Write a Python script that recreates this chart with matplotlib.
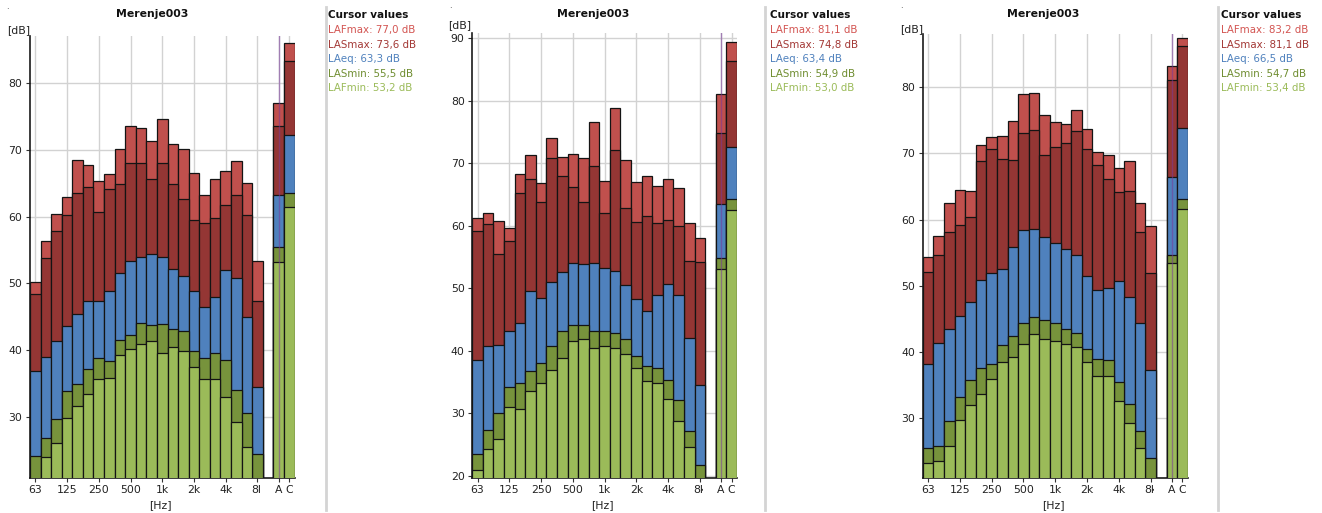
import matplotlib
matplotlib.use("Agg")
import matplotlib.pyplot as plt
from matplotlib.transforms import Bbox, offset_copy
from matplotlib.lines import Line2D

# ---------------- data ----------------
bands = ["63", "80", "100", "125", "160", "200", "250", "315", "400", "500", "630", "800",
         "1k", "1.25k", "1.6k", "2k", "2.5k", "3.15k", "4k", "5k", "6.3k", "8k"]
extra = ["A", "C"]
tick_bands = ["63", "125", "250", "500", "1k", "2k", "4k", "8k"]
series_names = ["LAFmax", "LASmax", "LAeq", "LASmin", "LAFmin"]
titles = ["Merenje003", "Merenje003", "Merenje003"]

# panel 1 (22 bands, then A, C)
LAFmax1 = [50.2, 56.4, 60.4, 63.0, 68.5, 67.7, 65.4, 66.4, 70.2, 73.6, 73.3, 71.3, 74.7, 70.9, 70.1, 66.6, 63.3, 65.7, 66.9, 68.4, 65.1, 53.3, 77.0, 86.1]
LASmax1 = [48.4, 53.8, 57.9, 60.3, 63.6, 64.4, 60.7, 64.2, 64.9, 68.1, 68.0, 65.6, 68.1, 64.9, 62.6, 59.5, 59.1, 59.8, 61.8, 63.2, 60.2, 47.3, 73.6, 83.4]
LAeq1 = [36.9, 39.0, 41.3, 43.6, 45.4, 47.3, 47.4, 48.8, 51.6, 53.3, 53.9, 54.4, 53.9, 52.1, 51.1, 48.9, 46.5, 47.9, 52.0, 50.8, 44.9, 34.5, 63.3, 72.3]
LASmin1 = [24.1, 26.8, 29.6, 33.8, 34.9, 37.1, 38.8, 38.4, 41.5, 42.3, 44.0, 43.8, 43.9, 43.2, 42.9, 39.9, 38.8, 39.5, 38.5, 34.0, 30.6, 24.4, 55.5, 63.5]
LAFmin1 = [20.5, 24.0, 26.0, 29.8, 31.6, 33.4, 35.6, 35.8, 39.2, 40.2, 40.9, 41.4, 39.6, 40.5, 39.8, 37.5, 35.7, 35.6, 32.9, 29.2, 25.4, 20.5, 53.2, 61.5]

# panel 2
LAFmax2 = [61.2, 62.0, 60.8, 59.6, 68.2, 71.4, 66.9, 74.0, 71.0, 71.5, 70.8, 76.6, 67.1, 78.8, 70.5, 67.0, 68.0, 66.3, 67.4, 66.0, 60.4, 58.0, 81.1, 89.4]
LASmax2 = [59.1, 60.3, 55.5, 57.6, 65.3, 67.4, 63.8, 70.9, 68.0, 66.2, 63.8, 69.5, 62.1, 72.1, 62.8, 60.6, 61.5, 60.4, 60.9, 59.9, 54.4, 54.2, 74.8, 86.3]
LAeq2 = [38.5, 40.8, 40.9, 43.2, 44.5, 49.6, 48.5, 51.0, 52.6, 54.1, 53.8, 54.1, 53.3, 52.8, 50.5, 48.2, 46.4, 48.9, 50.7, 48.9, 42.1, 34.5, 63.4, 72.6]
LASmin2 = [23.4, 27.3, 30.0, 34.2, 34.8, 36.7, 38.0, 40.8, 43.1, 44.1, 44.1, 43.2, 43.2, 42.9, 41.9, 39.1, 37.5, 37.2, 35.3, 32.1, 27.2, 21.7, 54.9, 64.2]
LAFmin2 = [20.9, 24.3, 25.8, 31.0, 30.6, 33.5, 34.8, 36.9, 38.8, 41.6, 41.8, 40.5, 40.7, 40.5, 39.5, 37.3, 35.1, 34.8, 32.3, 28.7, 24.6, 19.0, 53.0, 62.5]

# panel 3
LAFmax3 = [54.4, 57.5, 62.5, 64.4, 64.3, 71.3, 72.5, 72.7, 74.9, 78.9, 79.1, 75.8, 74.7, 74.5, 76.6, 73.7, 70.2, 69.8, 67.8, 68.8, 62.5, 59.0, 83.2, 87.5]
LASmax3 = [52.0, 54.7, 58.1, 59.2, 60.4, 68.9, 70.7, 69.1, 69.0, 73.1, 73.6, 69.8, 71.0, 71.6, 73.4, 70.7, 68.3, 66.1, 64.2, 64.3, 58.1, 51.9, 81.1, 86.3]
LAeq3 = [38.1, 41.4, 43.4, 45.4, 47.5, 50.8, 51.9, 52.5, 55.9, 58.4, 58.5, 57.4, 56.5, 55.5, 54.7, 51.5, 49.4, 49.7, 50.7, 48.3, 44.4, 37.2, 66.5, 73.8]
LASmin3 = [25.4, 25.8, 29.6, 33.2, 35.7, 37.5, 38.1, 41.1, 42.4, 44.4, 45.2, 44.8, 44.4, 43.5, 42.9, 40.4, 38.9, 38.7, 35.5, 32.1, 28.1, 24.0, 54.7, 63.1]
LAFmin3 = [23.2, 23.5, 25.8, 29.7, 32.0, 33.6, 35.9, 38.4, 39.2, 41.2, 42.7, 41.9, 41.7, 41.2, 40.7, 38.5, 36.4, 36.4, 32.5, 29.2, 25.5, 20.0, 53.4, 61.6]

panels_data = [
    [LAFmax1, LASmax1, LAeq1, LASmin1, LAFmin1],
    [LAFmax2, LASmax2, LAeq2, LASmin2, LAFmin2],
    [LAFmax3, LASmax3, LAeq3, LASmin3, LAFmin3],
]
ylims = [(20.9, 87.1), (19.7, 90.8), (21.0, 88.0)]
yticks = [[30, 40, 50, 60, 70, 80], [20, 30, 40, 50, 60, 70, 80, 90], [30, 40, 50, 60, 70, 80]]

# ---------------- style ----------------
bar_colors = ["#c0504d", "#943634", "#4f81bd", "#77933c", "#9bbb59"]
text_colors = ["#d35552", "#a33835", "#4f81bd", "#6f8d30", "#9bbb59"]

W, H = 1322, 513
fig = plt.figure(figsize=(W / 100, H / 100), dpi=100)
plt.rcParams["font.family"] = ["DejaVu Sans"]

layout = [
    dict(left=30.0, top=36.0, width=264.5, sep=325.5, legx=327.5, titlex=152, dbx=7, dby=30, dot=(7, 9)),
    dict(left=472.3, top=33.3, width=264.6, sep=765.0, legx=770.0, titlex=593, dbx=448, dby=25, dot=(450, 8)),
    dict(left=922.7, top=34.3, width=265.0, sep=1218.0, legx=1221.0, titlex=1043, dbx=900, dby=29, dot=(901, 8)),
]
bottom_px = 477.5

n = len(bands)
xpos = list(range(n)) + [n + 1, n + 2]

for p, (lay, data) in enumerate(zip(layout, panels_data)):
    ax = fig.add_axes([lay["left"] / W, (H - bottom_px) / H, lay["width"] / W,
                       (bottom_px - lay["top"]) / H])
    ax.set_xlim(-0.5, n + 2.5)
    ax.set_ylim(*ylims[p])
    ax.set_axisbelow(True)
    for k, vals in enumerate(data):
        ax.bar(xpos, vals, width=1.0, bottom=0, color=bar_colors[k],
               edgecolor="#141414", linewidth=0.9, zorder=2 + k)
    tick_idx = [bands.index(b) for b in tick_bands] + [n + 1, n + 2]
    tick_lab = tick_bands[:-1] + [""] + extra
    ax.set_xticks(tick_idx)
    ax.set_xticklabels(tick_lab)
    ax.set_yticks(yticks[p])
    ax.tick_params(axis="both", labelsize=7.8, length=3, width=0.8, color="#333333",
                   labelcolor="#222222", pad=2.5)
    ax.grid(True, color="#d2d2d2", linewidth=1.0)
    for s in ["top", "right"]:
        ax.spines[s].set_visible(False)
    for s in ["left", "bottom"]:
        ax.spines[s].set_color("#1a1a1a")
        ax.spines[s].set_linewidth(1.2)
    # clipped "8k" label
    trans = offset_copy(ax.get_xaxis_transform(), fig=fig, y=-5.5, units="points")
    t8 = ax.text(bands.index("8k"), 0, "8k", transform=trans, ha="center", va="top",
                 fontsize=7.8, color="#222222")
    xc = lay["left"] + (bands.index("8k") + 0.5) * lay["width"] / (n + 3)
    t8.set_clip_on(True)
    t8.set_clip_box(Bbox.from_extents(0, 0, xc + 3.0, H))
    # cursor line at A
    ax.axvline(n + 1, color="#7a3a9a", alpha=0.55, linewidth=1.0, zorder=10)

    fig.text(lay["titlex"] / W, 1 - 14 / H, titles[p], ha="center", va="center",
             fontsize=7.8, fontweight="bold", color="#111111")
    fig.text(lay["dbx"] / W, 1 - lay["dby"] / H, "[dB]", ha="left", va="center",
             fontsize=7.8, color="#222222")
    fig.text((lay["left"] + lay["width"] * 0.5 - 2) / W, 1 - 505 / H, "[Hz]", ha="center",
             va="center", fontsize=7.8, color="#222222")
    fig.text(lay["dot"][0] / W, 1 - lay["dot"][1] / H, ".", ha="center", va="baseline",
             fontsize=6, color="#333333")

    fig.add_artist(Line2D([lay["sep"] / W, lay["sep"] / W], [1 - 7 / H, 1 - 510 / H],
                          color="#d4d4d4", linewidth=2.0))
    fig.text(lay["legx"] / W, 1 - 15 / H, "Cursor values", ha="left", va="center",
             fontsize=7.5, fontweight="bold", color="#111111")
    for k, name in enumerate(series_names):
        val = data[k][n]
        s = f"{name}: {val:.1f} dB".replace(".", ",")
        fig.text(lay["legx"] / W, 1 - (30.5 + 14.5 * k) / H, s, ha="left", va="center",
                 fontsize=7.4, color=text_colors[k])

fig.savefig("out.png", dpi=100)
